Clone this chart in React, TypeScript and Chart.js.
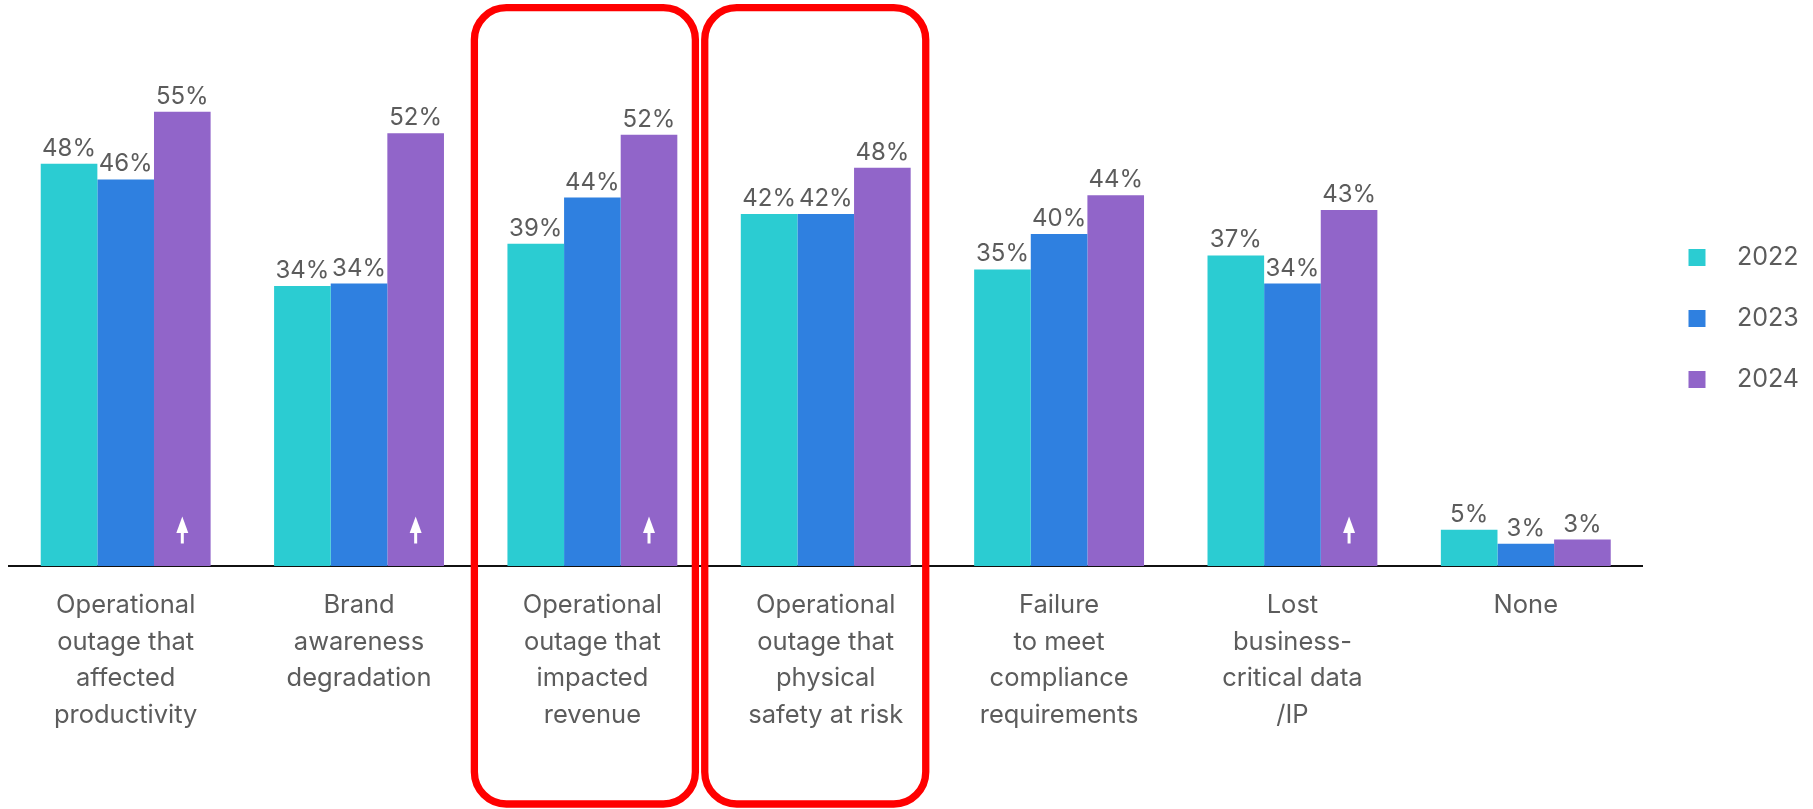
import React, { useEffect, useRef } from 'react';
import { Chart, registerables } from 'chart.js';

Chart.register(...registerables);

// ---- data ----
const categories: string[][] = [
  ['Operational', 'outage that', 'affected', 'productivity'],
  ['Brand', 'awareness', 'degradation'],
  ['Operational', 'outage that', 'impacted', 'revenue'],
  ['Operational', 'outage that', 'physical', 'safety at risk'],
  ['Failure', 'to meet', 'compliance', 'requirements'],
  ['Lost', 'business-', 'critical data', '/IP'],
  ['None'],
];
const seriesNames = ['2022', '2023', '2024'];
// bar heights
const values2022 = [48.7, 33.9, 39.0, 42.6, 35.9, 37.6, 4.4];
const values2023 = [46.8, 34.2, 44.6, 42.6, 40.2, 34.2, 2.7];
const values2024 = [55.0, 52.4, 52.2, 48.2, 44.9, 43.1, 3.2];
// printed labels
const labels2022 = [48, 34, 39, 42, 35, 37, 5];
const labels2023 = [46, 34, 44, 42, 40, 34, 3];
const labels2024 = [55, 52, 52, 48, 44, 43, 3];
// categories where 2024 shows an upward arrow
const risingFlags = [true, true, true, false, false, true, false];
// categories outlined in red
const highlighted = [2, 3];

const seriesColors = ['#2BCCD2', '#2F80E0', '#9165C9'];
const textColor = '#5c5c5c';

export default function App() {
  const ref = useRef<HTMLCanvasElement | null>(null);

  useEffect(() => {
    if (!ref.current) return;

    const swatches = seriesColors.map((c) => {
      const cv = document.createElement('canvas');
      cv.width = 46;
      cv.height = 17;
      const cx = cv.getContext('2d')!;
      cx.fillStyle = c;
      cx.fillRect(10, 0, 17, 17);
      return cv;
    });

    const printed = [labels2022, labels2023, labels2024];

    const valueLabels = {
      id: 'valueLabels',
      afterDatasetsDraw(chart: any) {
        const ctx = chart.ctx;
        ctx.save();
        ctx.font = '24px Inter';
        ctx.fillStyle = textColor;
        ctx.textAlign = 'center';
        ctx.textBaseline = 'alphabetic';
        chart.data.datasets.forEach((ds: any, di: number) => {
          const meta = chart.getDatasetMeta(di);
          meta.data.forEach((bar: any, i: number) => {
            ctx.fillText(printed[di][i] + '%', bar.x, bar.y - 8);
          });
        });
        // arrows
        const meta = chart.getDatasetMeta(2);
        const bottom = chart.chartArea.bottom;
        ctx.fillStyle = '#ffffff';
        meta.data.forEach((bar: any, i: number) => {
          if (!risingFlags[i]) return;
          const x = bar.x;
          ctx.beginPath();
          ctx.moveTo(x, bottom - 49.5);
          ctx.lineTo(x - 6, bottom - 33);
          ctx.lineTo(x + 6, bottom - 33);
          ctx.closePath();
          ctx.fill();
          ctx.fillRect(x - 1.5, bottom - 34, 3, 11.5);
        });
        ctx.restore();
      },
    };

    const redBoxes = {
      id: 'redBoxes',
      afterDraw(chart: any) {
        const ctx = chart.ctx;
        const xs = chart.scales.x;
        const offsets = [-7.5, -10.5];
        ctx.save();
        ctx.strokeStyle = '#FF0000';
        ctx.lineWidth = 7.3;
        highlighted.forEach((idx, k) => {
          const cx = xs.getPixelForValue(idx) + offsets[k];
          const left = cx - 110.5;
          const top = 7.7;
          const w = 221;
          const h = 804 - 7.7;
          ctx.beginPath();
          ctx.roundRect(left, top, w, h, 32);
          ctx.stroke();
        });
        ctx.restore();
      },
    };

    const chart = new Chart(ref.current, {
      type: 'bar',
      data: {
        labels: categories,
        datasets: [
          { label: seriesNames[0], data: values2022, backgroundColor: seriesColors[0] },
          { label: seriesNames[1], data: values2023, backgroundColor: seriesColors[1] },
          { label: seriesNames[2], data: values2024, backgroundColor: seriesColors[2] },
        ],
      },
      options: {
        responsive: false,
        animation: false,
        layout: { padding: { left: 9, top: 70.4, right: 4, bottom: 0 } },
        datasets: {
          bar: { categoryPercentage: 0.728, barPercentage: 1.0 },
        } as any,
        plugins: {
          tooltip: { enabled: false },
          legend: {
            position: 'right',
            fullSize: false,
            labels: {
              usePointStyle: true,
              pointStyleWidth: 46,
              padding: 36,
              color: textColor,
              font: { family: 'Inter', size: 25 },
              generateLabels: (ch: any) =>
                ch.data.datasets.map((ds: any, i: number) => ({
                  text: ds.label,
                  pointStyle: swatches[i],
                  fillStyle: ds.backgroundColor,
                  strokeStyle: 'rgba(0,0,0,0)',
                  lineWidth: 0,
                  hidden: false,
                  datasetIndex: i,
                  fontColor: textColor,
                })),
            },
          },
        },
        scales: {
          x: {
            grid: { display: false, drawTicks: false },
            border: { display: true, color: '#111111', width: 2 },
            ticks: {
              color: textColor,
              padding: 21,
              autoSkip: false,
              maxRotation: 0,
              font: { family: 'Inter', size: 25.5, lineHeight: '36.6px' },
            },
            afterFit: (scale: any) => {
              scale.height = 243;
            },
          },
          y: {
            display: false,
            min: 0,
            max: 60,
          },
        },
      },
      plugins: [valueLabels, redBoxes],
    });
    return () => chart.destroy();
  }, []);

  return (
    <div style={{ position: 'fixed', left: 0, top: 0, width: 1813, height: 809, background: '#ffffff' }}>
      <canvas ref={ref} width={1813} height={809} style={{ display: 'block' }} />
    </div>
  );
}
